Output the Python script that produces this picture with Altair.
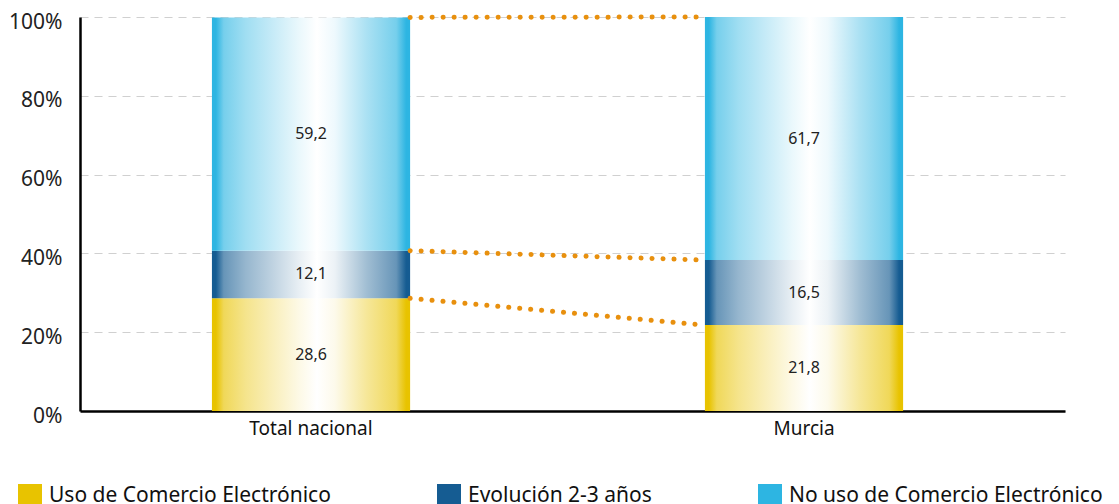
import altair as alt
import pandas as pd

categories = ["Total nacional", "Murcia"]
series = ["Uso de Comercio Electrónico", "Evolución 2-3 años", "No uso de Comercio Electrónico"]
uso = [28.6, 21.8]
evolucion = [12.1, 16.5]
no_uso = [59.2, 61.7]
colors = ["#E8C300", "#155C92", "#2DB5E2"]
y_ticks = [0, 20, 40, 60, 80, 100]

values_by_series = [uso, evolucion, no_uso]

rows = []
for i, cat in enumerate(categories):
    base = 0.0
    for s, vals in zip(series, values_by_series):
        v = vals[i]
        rows.append(dict(cat=cat, serie=s, y0=base, y1=base + v, mid=base + v / 2,
                         label=f"{v:.1f}".replace(".", ",")))
        base += v
df = pd.DataFrame(rows)

rule_rows = []
for s in series:
    a = df[(df.cat == categories[0]) & (df.serie == s)].y1.iloc[0]
    b = df[(df.cat == categories[1]) & (df.serie == s)].y1.iloc[0]
    rule_rows.append(dict(src=categories[0], dst=categories[1], ya=a, yb=b))
rules_df = pd.DataFrame(rule_rows)


def mix(hex_color, w):
    h = hex_color.lstrip("#")
    r, g, b = int(h[0:2], 16), int(h[2:4], 16), int(h[4:6], 16)
    r = round(r + (255 - r) * w)
    g = round(g + (255 - g) * w)
    b = round(b + (255 - b) * w)
    return f"#{r:02x}{g:02x}{b:02x}"


def gradient(c):
    stops = [(0.0, 0.0), (0.02, 0.0), (0.06, 0.35), (0.17, 0.55), (0.3, 0.72),
             (0.44, 0.9), (0.53, 1.0), (0.62, 0.92), (0.78, 0.6), (0.93, 0.35),
             (0.98, 0.0), (1.0, 0.0)]
    return alt.Gradient(
        gradient="linear", x1=0, x2=1, y1=0, y2=0,
        stops=[alt.GradientStop(offset=o, color=mix(c, w)) for o, w in stops],
    )


FONT = "Noto Sans"

x_scale = alt.Scale(domain=categories, paddingInner=0.598, paddingOuter=0.298, align=0.449)
y_scale = alt.Scale(domain=[0, 100], nice=False)

x_enc = alt.X("cat:N", scale=x_scale, sort=categories, title=None,
              axis=alt.Axis(labelAngle=0, labelFontSize=19, labelFont=FONT,
                            labelColor="#111", ticks=False, labelPadding=8,
                            domainColor="#000", domainWidth=2.5, grid=False))
y_axis = alt.Axis(values=y_ticks, labelExpr="datum.value + '%'", labelFontSize=21,
                  labelFont=FONT, labelColor="#222", ticks=False, labelPadding=18,
                  labelOffset=5,
                  domainColor="#000", domainWidth=2.5, grid=True, gridColor="#d0d0d0",
                  gridDash=[8, 6], gridWidth=1.2, title=None)

base = alt.Chart(df)

bar_layers = []
for s, c in zip(series, colors):
    bar_layers.append(
        base.transform_filter(alt.datum.serie == s)
        .mark_bar(color=gradient(c))
        .encode(x=x_enc, y=alt.Y("y0:Q", scale=y_scale, axis=y_axis), y2="y1:Q")
    )

legend_layer = base.mark_bar(opacity=0).encode(
    x=x_enc,
    y=alt.Y("y0:Q", scale=y_scale, axis=y_axis),
    y2="y1:Q",
    color=alt.Color("serie:N", scale=alt.Scale(domain=series, range=colors),
                    legend=alt.Legend(orient="none", legendX=-62, legendY=467,
                                      direction="horizontal", title=None,
                                      symbolType="square", symbolSize=576,
                                      symbolOpacity=1, symbolStrokeWidth=0,
                                      labelFontSize=21, labelFont=FONT,
                                      labelColor="#111", columnPadding=106,
                                      labelOffset=7, labelLimit=0, padding=0)),
)

text_layer = base.mark_text(fontSize=16, font=FONT, color="#222").encode(
    x=x_enc, y=alt.Y("mid:Q", scale=y_scale), text="label:N"
)

rule_layer = alt.Chart(rules_df).mark_rule(
    color="#E8900E", strokeWidth=5, strokeDash=[0.1, 10.9], strokeCap="round"
).encode(
    x=alt.X("src:N", scale=x_scale, sort=categories, bandPosition=1),
    x2=alt.X2("dst:N", bandPosition=0),
    y=alt.Y("ya:Q", scale=y_scale),
    y2="yb:Q",
)

chart = alt.layer(legend_layer, *bar_layers, text_layer, rule_layer).properties(
    width=985, height=394, padding={"left": 0, "top": 3, "right": 5, "bottom": 5}
).configure_view(stroke=None)

chart.save("out.html", embed_options={"renderer": "svg", "actions": False})
